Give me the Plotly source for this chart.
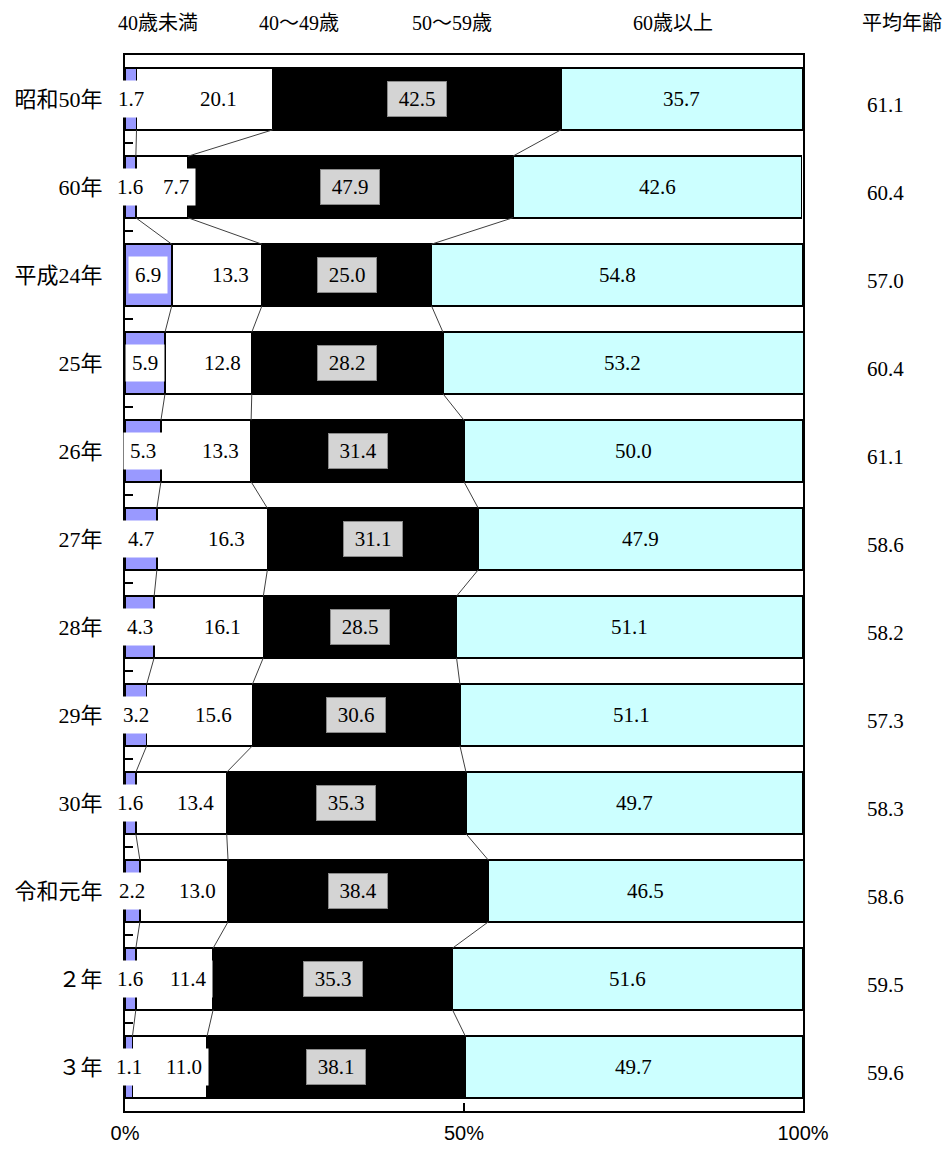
import plotly.graph_objects as go

# ---- data ----
categories = ["昭和50年", "60年", "平成24年", "25年", "26年", "27年",
              "28年", "29年", "30年", "令和元年", "２年", "３年"]
under40 = [1.7, 1.6, 6.9, 5.9, 5.3, 4.7, 4.3, 3.2, 1.6, 2.2, 1.6, 1.1]
age40s = [20.1, 7.7, 13.3, 12.8, 13.3, 16.3, 16.1, 15.6, 13.4, 13.0, 11.4, 11.0]
age50s = [42.5, 47.9, 25.0, 28.2, 31.4, 31.1, 28.5, 30.6, 35.3, 38.4, 35.3, 38.1]
over60 = [35.7, 42.6, 54.8, 53.2, 50.0, 47.9, 51.1, 51.1, 49.7, 46.5, 51.6, 49.7]
avg_age = [61.1, 60.4, 57.0, 60.4, 61.1, 58.6, 58.2, 57.3, 58.3, 58.6, 59.5, 59.6]
series_names = ["40歳未満", "40～49歳", "50～59歳", "60歳以上"]
avg_title = "平均年齢"
x_ticks = [0, 50, 100]
x_ticktext = ["0%", "50%", "100%"]

NUM_FONT = "Liberation Serif, Noto Sans CJK JP, serif"
colors = ["#9999FF", "#FFFFFF", "#000000", "#CCFFFF"]
BAR_W = 0.7

ypos = list(range(len(categories)))
series = [under40, age40s, age50s, over60]

fig = go.Figure()
for name, vals, col in zip(series_names, series, colors):
    fig.add_trace(go.Bar(
        y=ypos, x=vals, orientation="h", name=name, width=BAR_W,
        marker=dict(color=col, line=dict(color="#000000", width=1.5)),
        showlegend=False, hoverinfo="x+y",
    ))

# connector lines between consecutive bars
cum1 = [a for a in under40]
cum2 = [a + b for a, b in zip(under40, age40s)]
cum3 = [a + b + c for a, b, c in zip(under40, age40s, age50s)]
cx, cy = [], []
for cum in (cum1, cum2, cum3):
    for i in range(len(categories) - 1):
        cx += [cum[i], cum[i + 1], None]
        cy += [i + BAR_W / 2, i + 1 - BAR_W / 2, None]
fig.add_trace(go.Scatter(x=cx, y=cy, mode="lines",
                         line=dict(color="#404040", width=1),
                         showlegend=False, hoverinfo="skip"))

ann = []
for i in ypos:
    u, w, b, c = under40[i], age40s[i], age50s[i], over60[i]
    # 40歳未満
    ann.append(dict(x=u / 2, y=i, xref="x", yref="y", text=f"{u:.1f}",
                    xanchor="center", showarrow=False, bgcolor="#FFFFFF",
                    borderpad=6,
                    font=dict(family=NUM_FONT, size=21, color="#000000")))
    # 40～49歳
    ann.append(dict(x=u + w / 2, y=i, xref="x", yref="y", text=f"{w:.1f}",
                    xanchor="center", xshift=14, showarrow=False,
                    bgcolor="#FFFFFF", borderpad=6,
                    font=dict(family=NUM_FONT, size=21, color="#000000")))
    # 50～59歳
    ann.append(dict(x=u + w + b / 2, y=i, xref="x", yref="y", text=f"{b:.1f}",
                    xanchor="center", showarrow=False, bgcolor="#D4D4D4",
                    bordercolor="#8A8A8A", borderwidth=1, width=50, height=26,
                    borderpad=4,
                    font=dict(family=NUM_FONT, size=21, color="#000000")))
    # 60歳以上
    ann.append(dict(x=min(u + w + b + c / 2, (u + w + b + 100) / 2), y=i,
                    xref="x", yref="y", text=f"{c:.1f}", xanchor="center",
                    showarrow=False,
                    font=dict(family=NUM_FONT, size=21, color="#000000")))
    # 平均年齢
    ann.append(dict(x=1.121, y=i, xref="paper", yref="y",
                    text=f"{avg_age[i]:.1f}", xanchor="center", yshift=-6,
                    showarrow=False,
                    font=dict(family=NUM_FONT, size=21, color="#000000")))

header_x = [0.049, 0.257, 0.482, 0.808, 1.146]
for hx, txt in zip(header_x, series_names + [avg_title]):
    ann.append(dict(x=hx, y=1, xref="paper", yref="paper", text=txt,
                    xanchor="center", yanchor="middle", yshift=32,
                    showarrow=False,
                    font=dict(family=NUM_FONT, size=20, color="#000000")))

fig.update_layout(
    width=951, height=1149,
    margin=dict(l=125, r=148, t=55, b=38, autoexpand=False),
    barmode="stack", bargap=0.3,
    plot_bgcolor="#FFFFFF", paper_bgcolor="#FFFFFF",
    annotations=ann,
    xaxis=dict(range=[0, 100], tickvals=x_ticks, ticktext=x_ticktext,
               ticks="inside", ticklen=8, tickwidth=1.5, tickcolor="#000000",
               showline=True, linewidth=2, linecolor="#000000", mirror=True,
               showgrid=False, zeroline=False, ticklabelstandoff=3,
               automargin=False,
               tickfont=dict(family="Liberation Sans Narrow, Liberation Sans, sans-serif",
                             size=20, color="#000000")),
    yaxis=dict(range=[len(categories) - 0.5, -0.5], tickvals=ypos,
               ticktext=categories, ticks="", showline=True, linewidth=2,
               linecolor="#000000", mirror=True, showgrid=False, zeroline=False,
               ticklabelstandoff=16, automargin=False,
               minor=dict(tickvals=[i + 0.5 for i in range(len(categories) - 1)],
                          ticks="inside", ticklen=8, tickwidth=1.5,
                          tickcolor="#000000", showgrid=False),
               tickfont=dict(family=NUM_FONT, size=22, color="#000000")),
)

fig.write_html("out.html")
